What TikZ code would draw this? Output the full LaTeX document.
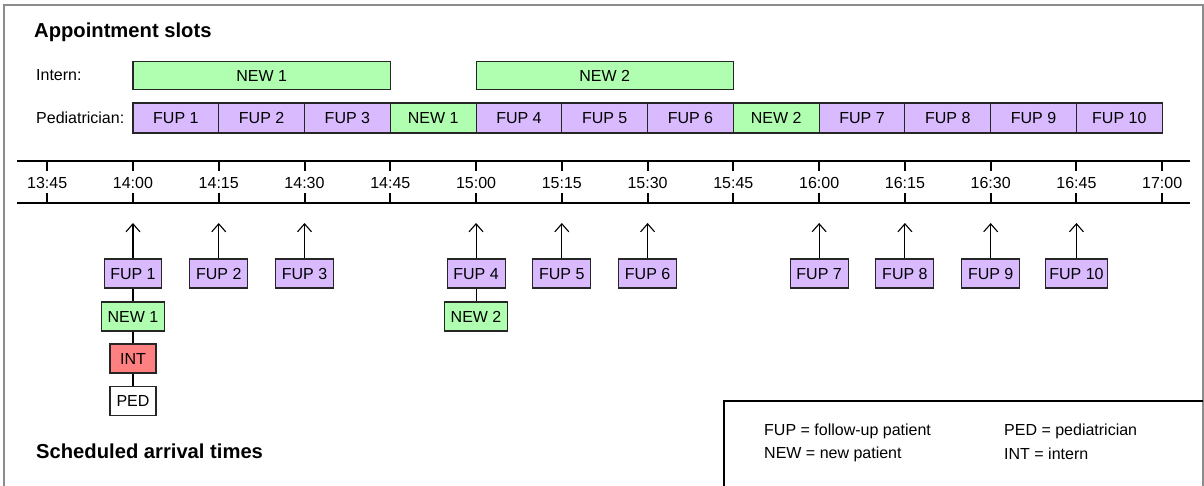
\documentclass[tikz,border=0pt]{standalone}
\usepackage{fontspec}
\setmainfont{Liberation Sans}
\usetikzlibrary{arrows.meta}
\definecolor{fupcol}{RGB}{218,186,255}
\definecolor{newcol}{RGB}{176,255,176}
\definecolor{intcol}{RGB}{255,128,128}
\definecolor{framecol}{RGB}{140,140,140}
\tikzset{
  slot/.style={draw=black!85, line width=1.1pt, inner sep=0pt, minimum height=29pt,
    font=\fontsize{16}{17}\selectfont, text height=11.5pt, text depth=0pt},
  fup/.style={slot, fill=fupcol},
  newp/.style={slot, fill=newcol},
  intp/.style={slot, fill=intcol},
  pedp/.style={slot, fill=white},
  title/.style={anchor=base west, inner sep=0pt, font=\fontsize{20.2}{21}\selectfont\bfseries},
  lbl/.style={anchor=west, inner sep=0pt, font=\fontsize{16}{17}\selectfont},
  timelbl/.style={inner sep=0pt, font=\fontsize{16}{17}\selectfont},
  axis/.style={line width=2pt},
  tick/.style={line width=2pt},
  arr/.style={line width=1.1pt, -{Straight Barb[length=8pt,width=14pt,line width=1.1pt]}},
  link/.style={line width=1.1pt},
}
\begin{document}
\begin{tikzpicture}[x=1pt,y=-1pt]
\useasboundingbox (0,0) rectangle (1204,485);
% outer frame and legend box
\draw[framecol, line width=1.5pt] (4,490) -- (4,5) -- (1203,5) -- (1203,490);
\draw[black, line width=1.1pt] (724,490) -- (724,401) -- (1203,401);

% headings
\node[title] (head1) at (34,37.5) {Appointment slots};
\node[title] (head2) at (36,458) {Scheduled arrival times};
\node[lbl] (lint) at (36,75) {Intern:};
\node[lbl] (lped) at (36,118) {Pediatrician:};

% intern slots
\node[newp, minimum width=257.3pt, minimum height=28pt] (in1) at ({47.2+85.77*2.5},75.5) {NEW 1};
\node[newp, minimum width=257.3pt, minimum height=28pt] (in2) at ({47.2+85.77*6.5},75.5) {NEW 2};

% pediatrician slots
\foreach \k/\lab/\sty in {1/FUP 1/fup, 2/FUP 2/fup, 3/FUP 3/fup, 4/NEW 1/newp,
  5/FUP 4/fup, 6/FUP 5/fup, 7/FUP 6/fup, 8/NEW 2/newp, 9/FUP 7/fup,
  10/FUP 8/fup, 11/FUP 9/fup, 12/FUP 10/fup}
  \node[\sty, minimum width=85.77pt, minimum height=30pt] (ped\k) at ({47.2+85.77*(\k+0.5)},118) {\lab};

% time axis
\coordinate (axL1) at (17,161);
\coordinate (axR1) at (1190,161);
\coordinate (axL2) at (17,203);
\coordinate (axR2) at (1190,203);
\draw[axis] (axL1) -- (axR1);
\draw[axis] (axL2) -- (axR2);
\foreach \k/\t in {0/13:45, 1/14:00, 2/14:15, 3/14:30, 4/14:45, 5/15:00, 6/15:15,
  7/15:30, 8/15:45, 9/16:00, 10/16:15, 11/16:30, 12/16:45, 13/17:00} {
  \coordinate (tt\k) at ({47.2+85.77*\k},161);
  \coordinate (tb\k) at ({47.2+85.77*\k},203);
  \draw[tick] (tt\k) -- ++(0,10);
  \draw[tick] (tb\k) -- ++(0,-10);
  \node[timelbl] (time\k) at ({47.2+85.77*\k},183) {\t};
}

% scheduled arrivals
\foreach \k/\lab/\w in {1/FUP 1/57, 2/FUP 2/58, 3/FUP 3/58, 5/FUP 4/58, 6/FUP 5/58,
  7/FUP 6/58, 9/FUP 7/58, 10/FUP 8/58, 11/FUP 9/58, 12/FUP 10/62} {
  \node[fup, minimum width=\w pt] (arr\k) at ({47.2+85.77*\k},273.5) {\lab};
  \coordinate (tip\k) at ({47.2+85.77*\k},223);
  \draw[arr] (arr\k) -- (tip\k);
}
\node[newp, minimum width=63pt] (an1) at ({47.2+85.77},316.5) {NEW 1};
\node[intp, minimum width=46pt] (aint) at ({47.2+85.77},358.5) {INT};
\node[pedp, minimum width=46pt] (aped) at ({47.2+85.77},401) {PED};
\node[newp, minimum width=63pt] (an2) at ({47.2+85.77*5},316.5) {NEW 2};
\draw[link] (arr1) -- (an1);
\draw[link] (an1) -- (aint);
\draw[link] (aint) -- (aped);
\draw[link] (arr5) -- (an2);

% legend
\node[lbl] (lg1) at (764,431) {FUP = follow-up patient};
\node[lbl] (lg2) at (764,454) {NEW = new patient};
\node[lbl] (lg3) at (1004,431) {PED = pediatrician};
\node[lbl] (lg4) at (1004,454) {INT = intern};
\end{tikzpicture}
\end{document}
